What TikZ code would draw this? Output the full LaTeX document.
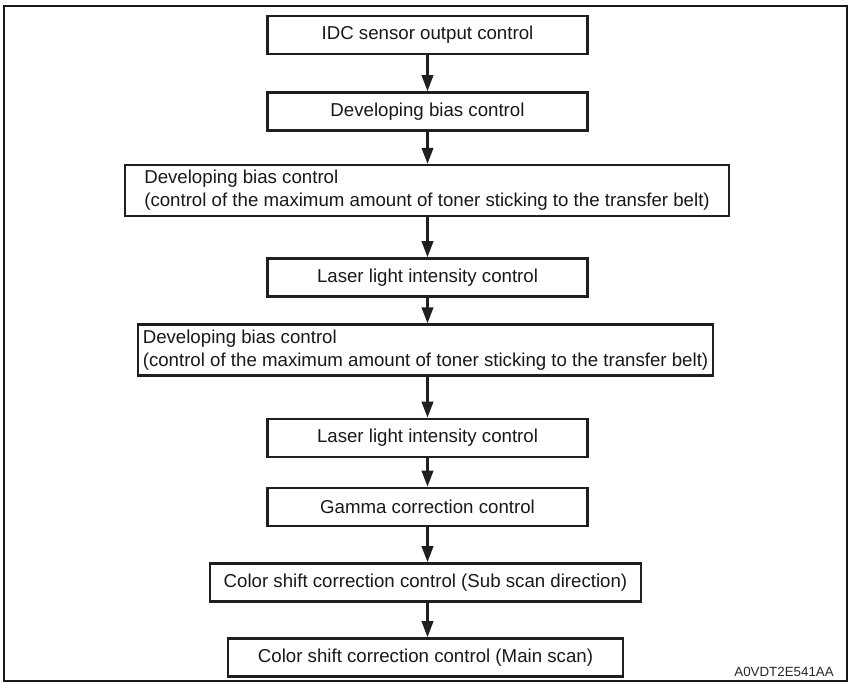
\documentclass[tikz,border=0pt]{standalone}
\usepackage{fontspec}
\setmainfont{Liberation Sans}
\usetikzlibrary{arrows.meta}
\begin{document}
\begin{tikzpicture}[x=0.75pt,y=-0.75pt,
  box/.style={draw=black!88, line width=1.9pt, fill=white, minimum height=28.5pt, inner sep=0pt, font=\fontsize{14}{17}\selectfont, text=black!90},
  sbox/.style={box, minimum width=240pt},
  wbox/.style={box, align=left, minimum height=38pt},
  flow/.style={draw=black!88, line width=2pt, -{Triangle[width=8.5pt,length=12pt]}},
]
\useasboundingbox (0,0) rectangle (851,685);
\draw[line width=1.5pt, black!90] (4,6) rectangle (847,681);

\coordinate (axis) at (427.5,0);
\node[sbox] (n1) at (427.5,35) {IDC sensor output control};
\node[sbox] (n2) at (427.5,111.5) {Developing bias control};
\node[wbox, minimum width=453pt] (n3) at (427,190.5) {Developing bias control\\(control of the maximum amount of toner sticking to the transfer belt)};
\node[sbox] (n4) at (427.5,277.5) {Laser light intensity control};
\node[wbox, minimum width=431pt] (n5) at (425.5,350) {Developing bias control\\(control of the maximum amount of toner sticking to the transfer belt)};
\node[sbox] (n6) at (427.5,438) {Laser light intensity control};
\node[sbox] (n7) at (427.5,507) {Gamma correction control};
\node[box, minimum width=323pt] (n8) at (425.5,582.5) {Color shift correction control (Sub scan direction)};
\node[box, minimum width=296pt] (n9) at (425.5,657.5) {Color shift correction control (Main scan)};
\node[font=\fontsize{10}{12}\selectfont, anchor=east, inner sep=0pt, text=black!85] (code) at (834,672) {A0VDT2E541AA};

\draw[flow] (n1.south -| axis) -- (n2.north -| axis);
\draw[flow] (n2.south -| axis) -- (n3.north -| axis);
\draw[flow] (n3.south -| axis) -- (n4.north -| axis);
\draw[flow] (n4.south -| axis) -- (n5.north -| axis);
\draw[flow] (n5.south -| axis) -- (n6.north -| axis);
\draw[flow] (n6.south -| axis) -- (n7.north -| axis);
\draw[flow] (n7.south -| axis) -- (n8.north -| axis);
\draw[flow] (n8.south -| axis) -- (n9.north -| axis);
\end{tikzpicture}
\end{document}
